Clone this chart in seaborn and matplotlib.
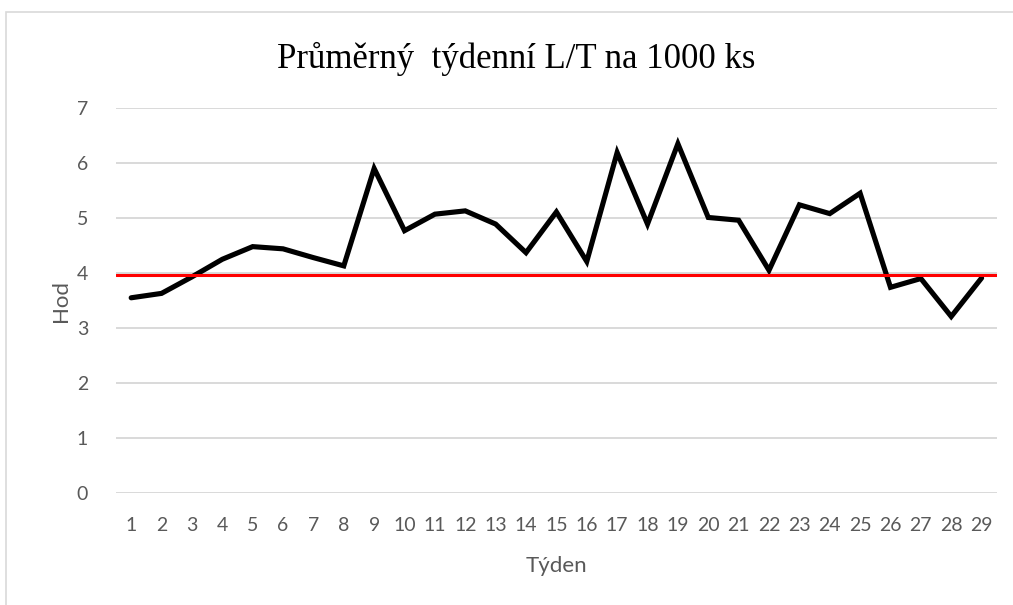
import pandas as pd
import matplotlib.pyplot as plt
import matplotlib.patches as mpatches
import seaborn as sns

# data
tydny = list(range(1, 30))
lt_hodnoty = [3.55, 3.63, 3.93, 4.25, 4.48, 4.44, 4.28, 4.13, 5.90, 4.77,
              5.07, 5.13, 4.89, 4.37, 5.11, 4.21, 6.19, 4.89, 6.35, 5.01,
              4.96, 4.05, 5.24, 5.08, 5.45, 3.74, 3.90, 3.21, 3.91]
prumer_lt = 3.97
y_ticks = [0, 1, 2, 3, 4, 5, 6, 7]

df = pd.DataFrame({'Týden': tydny, 'Hod': lt_hodnoty})

sns.set_theme(style="white")
plt.rcParams['font.family'] = ['Lato', 'DejaVu Sans']

fig = plt.figure(figsize=(10.13, 6.05), dpi=100)
ax = fig.add_axes([0.1145, 0.185, 0.8695, 0.6365])

# mřížka
for v in y_ticks:
    ax.axhline(v, color='#d9d9d9', lw=1.4, zorder=0)

sns.lineplot(data=df, x='Týden', y='Hod', color='black', lw=3.7, ax=ax,
             solid_joinstyle='miter', zorder=3)
ax.axhline(prumer_lt, color='#ff0000', lw=2.2, zorder=4)

ax.set_xlim(0.5, 29.5)
ax.set_ylim(0, 7)
ax.set_xticks(tydny)
ax.set_xticklabels([str(t) for t in tydny])
ax.set_yticks(y_ticks)
ax.tick_params(axis='both', length=0, labelsize=14, labelcolor='#595959')
ax.tick_params(axis='x', pad=17)
ax.tick_params(axis='y', pad=20)
for s in ax.spines.values():
    s.set_visible(False)

ax.set_xlabel('Týden', fontsize=16, color='#595959', labelpad=16)
ax.set_ylabel('Hod', fontsize=16, color='#595959', labelpad=4)

fig.text(0.51, 0.903, 'Průměrný  týdenní L/T na 1000 ks', ha='center', va='center',
         fontsize=25, family='Liberation Serif', color='black')

# rámeček grafu
fig.patches.append(mpatches.Rectangle((0.006, -0.05), 1.2, 1 - 12 / 605 + 0.05,
                                      transform=fig.transFigure, fill=False,
                                      edgecolor='#d9d9d9', lw=1.2))

fig.savefig('out.png', dpi=100)
